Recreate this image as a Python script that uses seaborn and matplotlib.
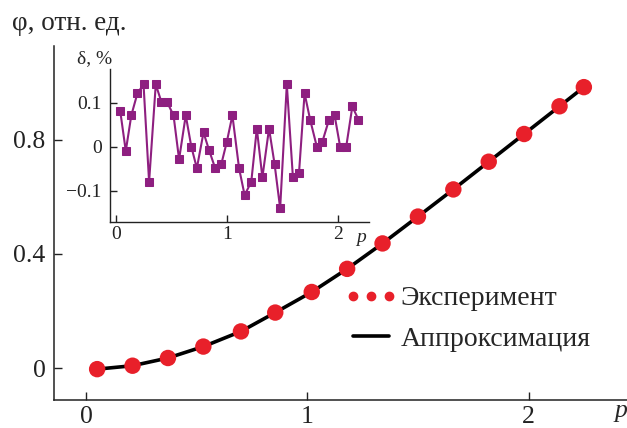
import seaborn as sns
import matplotlib.pyplot as plt
from matplotlib.lines import Line2D
import pandas as pd

# experiment (red dots) and approximation curve
p_exp = [0.05, 0.21, 0.37, 0.53, 0.70, 0.855, 1.02, 1.18, 1.34, 1.50, 1.66, 1.82, 1.98, 2.14, 2.25]
phi_exp = [-0.003, 0.009, 0.036, 0.076, 0.129, 0.195, 0.267, 0.348, 0.437, 0.531, 0.626, 0.723, 0.820, 0.917, 0.984]
phi_fit = [-0.003, 0.009, 0.036, 0.076, 0.129, 0.195, 0.267, 0.348, 0.437, 0.531, 0.626, 0.723, 0.820, 0.917, 0.984]

# inset: relative deviation, %
p_dev = [0.04, 0.09, 0.14, 0.195, 0.25, 0.30, 0.36, 0.41, 0.46, 0.52, 0.57, 0.63, 0.68, 0.73,
         0.79, 0.84, 0.895, 0.95, 1.00, 1.05, 1.11, 1.16, 1.22, 1.27, 1.32, 1.38, 1.43, 1.48,
         1.54, 1.595, 1.65, 1.70, 1.75, 1.81, 1.86, 1.92, 1.97, 2.02, 2.075, 2.13, 2.185]
delta = [0.081, -0.010, 0.071, 0.121, 0.141, -0.080, 0.141, 0.102, 0.102, 0.071, -0.029, 0.071,
         0.0, -0.049, 0.032, -0.008, -0.049, -0.040, 0.011, 0.071, -0.049, -0.110, -0.080, 0.041,
         -0.070, 0.041, -0.040, -0.140, 0.141, -0.070, -0.059, 0.121, 0.061, 0.0, 0.011, 0.061,
         0.071, 0.0, 0.0, 0.091, 0.061]

main_xticks = [0, 1, 2]
main_yticks = [0, 0.4, 0.8]
main_ylabels = ["0", "0.4", "0.8"]
ins_xticks = [0, 1, 2]
ins_yticks = [-0.1, 0, 0.1]
ins_ylabels = ["\u22120.1", "0", "0.1"]

sns.set_theme(style="ticks")
plt.rcParams['font.family'] = ['Liberation Serif', 'DejaVu Serif']
plt.rcParams['mathtext.fontset'] = 'stix'

W, H = 627, 428
fig = plt.figure(figsize=(W / 100, H / 100), dpi=100)

red = "#e8202a"
purple = "#8e1f80"

# main axes
ax = fig.add_axes([54 / W, 1 - 400 / H, (W - 54) / W, (400 - 46) / H])
df = pd.DataFrame({"p": p_exp, "phi": phi_exp, "fit": phi_fit})
sns.lineplot(data=df, x="p", y="fit", ax=ax, color="black", lw=2.6, zorder=2)
sns.scatterplot(data=df, x="p", y="phi", ax=ax, color=red, s=140, edgecolor="none", zorder=3)
ax.set_xlim(-0.145, 2.445)
ax.set_ylim(-0.111, 1.128)
ax.set_xticks(main_xticks)
ax.set_xticklabels([str(t) for t in main_xticks])
ax.set_yticks(main_yticks)
ax.set_yticklabels(main_ylabels)
ax.set_xlabel("")
ax.set_ylabel("")
ax.tick_params(direction="in", length=6, width=1, labelsize=18.5, colors="#222222")
ax.tick_params(axis="x", pad=4)
ax.tick_params(axis="y", pad=6)
for s in ["left", "bottom"]:
    ax.spines[s].set_linewidth(1.1)
    ax.spines[s].set_color("#222222")
sns.despine(ax=ax)

handles = [
    Line2D([], [], color=red, marker="o", ls="none", markersize=6),
    Line2D([], [], color="black", lw=2.6),
]
leg = ax.legend(handles, ["Эксперимент", "Аппроксимация"], numpoints=3, frameon=False,
                fontsize=20, loc="upper left", bbox_to_anchor=(345 / W, 1 - 286 / H),
                bbox_transform=fig.transFigure, handlelength=1.9, handletextpad=0.1,
                labelspacing=0.55, borderpad=0, borderaxespad=0)

fig.text(12 / W, 1 - 24 / H, "φ, отн. ед.", fontsize=19.5, ha="left", va="center")
fig.text(621 / W, 1 - 411 / H, "p", fontsize=18.5, style="italic", ha="center", va="center")

# inset
ins = fig.add_axes([110 / W, 1 - 222 / H, (369 - 110) / W, (222 - 69) / H])
dd = pd.DataFrame({"p": p_dev, "delta": delta})
sns.lineplot(data=dd, x="p", y="delta", ax=ins, color=purple, lw=1.5, marker="s",
             markersize=5.5, markeredgecolor=purple)
ins.set_xlim(-0.052, 2.28)
ins.set_ylim(-0.171, 0.176)
ins.set_xticks(ins_xticks)
ins.set_xticklabels([str(t) for t in ins_xticks])
ins.set_yticks(ins_yticks)
ins.set_yticklabels(ins_ylabels)
ins.set_xlabel("")
ins.set_ylabel("")
ins.patch.set_alpha(0)
ins.tick_params(direction="in", length=5, width=1, labelsize=14, colors="#222222")
ins.tick_params(axis="x", pad=3)
ins.tick_params(axis="y", pad=6)
for s in ["left", "bottom"]:
    ins.spines[s].set_linewidth(1.0)
    ins.spines[s].set_color("#222222")
sns.despine(ax=ins)

fig.text(77 / W, 1 - 59 / H, "δ, %", fontsize=14, ha="left", va="center")
fig.text(361 / W, 1 - 238 / H, "p", fontsize=14, style="italic", ha="center", va="center")

fig.savefig("out.png", dpi=100)
